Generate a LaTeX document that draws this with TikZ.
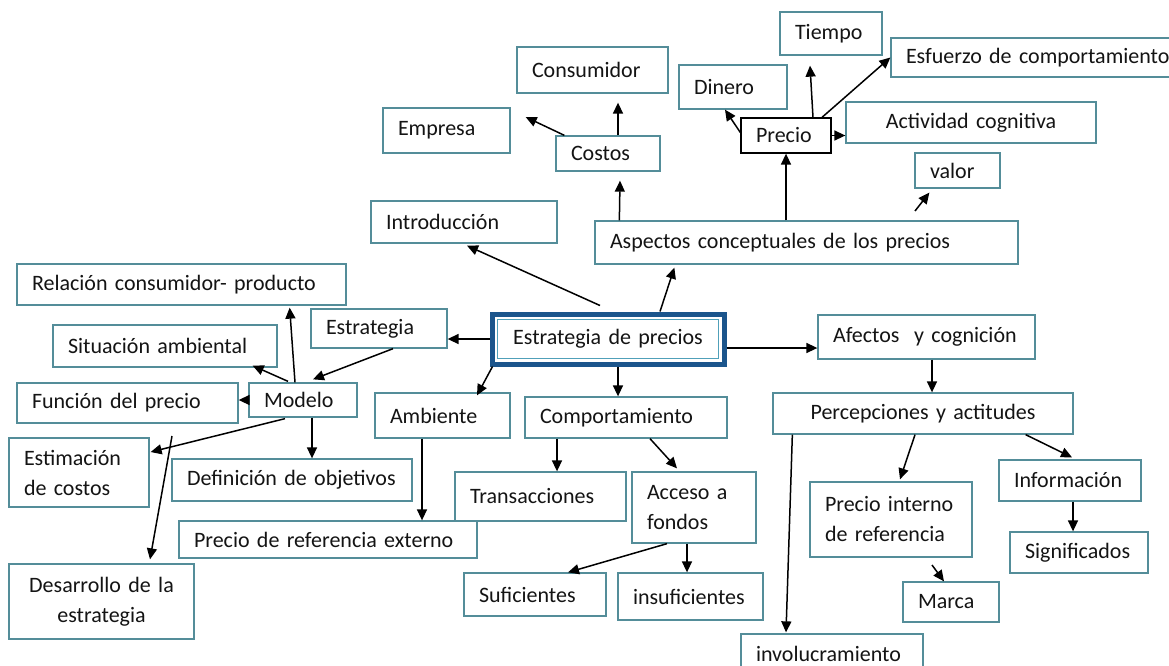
\documentclass[tikz,border=0pt]{standalone}
\usepackage{fontspec}
\setmainfont{Carlito}[WordSpace=0.8]
\usetikzlibrary{arrows.meta}
\definecolor{boxline}{RGB}{84,141,153}
\definecolor{mainblue}{RGB}{27,85,140}
\definecolor{innerline}{RGB}{80,160,185}
\definecolor{txt}{RGB}{20,20,20}
\hyphenpenalty=10000
\exhyphenpenalty=10000
\tikzset{
  bx/.style={draw=boxline, fill=white, line width=1.3pt, inner xsep=15pt, inner ysep=0pt,
    text=txt, font=\fontsize{22}{30}\selectfont, align=left},
  arr/.style={draw=black, line width=1.5pt, -{Triangle[length=11pt,width=10pt]}}
}
\newcommand\mybox[7][]{%
  \pgfmathsetmacro\bw{#5-#3}\pgfmathsetmacro\bh{#6-#4}\pgfmathsetmacro\tw{#5-#3-30}%
  \pgfmathsetmacro\cx{(#3+#5)/2}\pgfmathsetmacro\cy{(#4+#6)/2}%
  \node[bx, minimum width=\bw pt, minimum height=\bh pt, text width=\tw pt, #1] (#2)
    at (\cx,\cy) {#7};}
\begin{document}
\begin{tikzpicture}[x=1pt,y=-1pt]
\fill[white] (0,0) rectangle (1169,665);
\useasboundingbox (0,0) rectangle (1169,665);

% nodes
\mybox{consumidor}{517}{47}{668}{93}{Consumidor}
\mybox{empresa}{383}{108}{510}{153}{Empresa}
\mybox{costos}{556}{136}{660}{171}{Costos}
\mybox{intro}{371}{201}{557}{243}{Introducción}
\mybox{dinero}{679}{65}{787}{109}{Dinero}
\mybox{tiempo}{780}{12}{882}{55}{Tiempo}
\mybox{esfuerzo}{891}{38}{1190}{77}{Esfuerzo de comportamiento}
\mybox[draw=black]{precio}{741}{118}{831}{153}{Precio}
\mybox[align=center]{activ}{846}{102}{1096}{143}{Actividad cognitiva}
\mybox{valor}{915}{153}{1000}{188}{valor}
\mybox{aspectos}{595}{221}{1018}{264}{Aspectos conceptuales de los precios}
\mybox{relacion}{17}{264}{346}{305}{Relación consumidor- producto}
\mybox{estrat}{311}{309}{447}{348}{Estrategia}
\mybox{situ}{53}{325}{277}{367}{Situación ambiental}
\mybox{funcion}{17}{383}{238}{423}{Función del precio}
\mybox{modelo}{249}{383}{357}{417}{Modelo}
\mybox{ambiente}{375}{393}{510}{438}{Ambiente}
\mybox[draw=mainblue, line width=5pt, align=center]{main}{492}{314}{724}{364}{Estrategia de precios}
\draw[innerline, line width=1.2pt] ([shift={(8,8)}]main.north west) rectangle ([shift={(-8,-8)}]main.south east);
\mybox{comport}{525}{397}{727}{438}{Comportamiento}
\mybox{afectos}{818}{315}{1035}{359}{Afectos~ y cognición}
\mybox[align=center]{percep}{773}{393}{1073}{434}{Percepciones y actitudes}
\mybox{estim}{9}{438}{149}{507}{Estimación\\de costos}
\mybox{defin}{172}{459}{412}{501}{Definición de objetivos}
\mybox{pref}{179}{521}{477}{558}{Precio de referencia externo}
\mybox[align=center]{desarr}{9}{564}{194}{639}{Desarrollo de la\\estrategia}
\mybox{trans}{455}{472}{626}{521}{Transacciones}
\mybox{acceso}{632}{472}{756}{543}{Acceso a\\fondos}
\mybox{sufic}{464}{573}{606}{616}{Suficientes}
\mybox{insuf}{618}{573}{763}{620}{insuficientes}
\mybox{pinterno}{810}{482}{972}{557}{Precio interno\\de referencia}
\mybox{info}{999}{460}{1141}{501}{Información}
\mybox{signif}{1010}{532}{1148}{573}{Significados}
\mybox{marca}{903}{582}{999}{622}{Marca}
\mybox{invol}{741}{634}{923}{674}{involucramiento}

\coordinate (vstart) at (915,211);
\coordinate (dstart) at (172,436);
\coordinate (mstart) at (932,565);

% connectors
\draw[arr, shorten >=9pt] ([shift={(10,0)}]costos.north) -- ([shift={(25.5,0)}]consumidor.south);
\draw[arr] ([shift={(9,0)}]costos.north west) -- ([shift={(15,-13.5)}]empresa.east);
\draw[arr] ([shift={(25,0)}]aspectos.north west) -- ([shift={(12,9)}]costos.south);
\draw[arr] (aspectos.north -| precio.south) -- (precio.south);
\draw[arr] ([shift={(0,-3)}]precio.west) -- ([shift={(-8,0)}]dinero.south);
\draw[arr] ([shift={(27,0)}]precio.north) -- ([shift={(-21,10)}]tiempo.south);
\draw[arr] ([shift={(36,0)}]precio.north) -- (esfuerzo.west);
\draw[arr] (precio.east) -- (precio.east -| activ.west);
\draw[arr] (vstart) -- ([shift={(15,4)}]valor.south west);
\draw[arr] ([shift={(52,0)}]main.north) -- ([shift={(80,3)}]aspectos.south west);
\draw[arr] ([shift={(-8,-6)}]main.north) -- ([shift={(3,2)}]intro.south);
\draw[arr] (main.west) -- (main.west -| estrat.east);
\draw[arr] ([shift={(14,0)}]estrat.south) -- ([shift={(10,-3)}]modelo.north);
\draw[arr] ([shift={(-8,0)}]modelo.north) -- ([shift={(-57,2)}]relacion.south east);
\draw[arr] ([shift={(-15,-1)}]modelo.north) -- ([shift={(-25,-2)}]situ.south east);
\draw[arr] (modelo.west) -- (modelo.west -| funcion.east);
\draw[arr] ([shift={(-18,1)}]modelo.south) -- ([shift={(1,-20.5)}]estim.east);
\draw[arr] ([shift={(9,0)}]modelo.south) -- ([shift={(9,0)}]modelo.south |- defin.north);
\draw[arr] (dstart) -- ([shift={(48.5,-4)}]desarr.north);
\draw[arr] ([shift={(3,0)}]main.south west) -- ([shift={(34.5,3)}]ambiente.north);
\draw[arr] ([shift={(10,0)}]main.south) -- ([shift={(10,0)}]main.south |- comport.north);
\draw[arr] ([shift={(0,9)}]main.east) -- ([shift={(0,9)}]main.east -| afectos.west);
\draw[arr] ([shift={(-20.5,0)}]ambiente.south) -- ([shift={(-20.5,0)}]ambiente.south |- pref.north);
\draw[arr] ([shift={(-69,0)}]comport.south) -- ([shift={(-69,0)}]comport.south |- trans.north);
\draw[arr] ([shift={(24,0)}]comport.south) -- ([shift={(-17,-3)}]acceso.north);
\draw[arr] ([shift={(-27,0)}]acceso.south) -- ([shift={(33,0)}]sufic.north);
\draw[arr] ([shift={(-7,0)}]acceso.south) -- ([shift={(-7,0)}]acceso.south |- insuf.north);
\draw[arr] ([shift={(5.5,0)}]afectos.south) -- ([shift={(5.5,0)}]afectos.south |- percep.north);
\draw[arr] ([shift={(20,0)}]percep.south west) -- ([shift={(-46,-1)}]invol.north);
\draw[arr] ([shift={(-8,0)}]percep.south) -- ([shift={(9,-2)}]pinterno.north);
\draw[arr] ([shift={(-48,0)}]percep.south east) -- ([shift={(2,-2)}]info.north);
\draw[arr] ([shift={(3,0)}]info.south) -- ([shift={(3,0)}]info.south |- signif.north);
\draw[arr] (mstart) -- ([shift={(-7,0)}]marca.north);
\end{tikzpicture}
\end{document}
